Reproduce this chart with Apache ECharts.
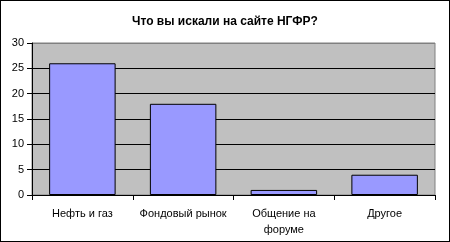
<!DOCTYPE html>
<html><head><meta charset="utf-8">
<script src="https://cdn.jsdelivr.net/npm/echarts@6/dist/echarts.min.js"></script>
<style>html,body{margin:0;padding:0;background:#fff}#c{width:450px;height:242px;box-sizing:border-box;border:1px solid #000}</style>
</head><body><div id="c"></div>
<script>
const titleText = 'Что вы искали на сайте НГФР?';
const categories = ['Нефть и газ', 'Фондовый рынок', 'Общение на\nфоруме', 'Другое'];
const values = [26, 18, 1, 4];
const yTicks = [0, 5, 10, 15, 20, 25, 30];

const chart = echarts.init(document.getElementById('c'), null, {renderer: 'canvas'});
chart.setOption({
  animation: false,
  backgroundColor: '#fff',
  title: {
    text: titleText, left: 'center', top: 10,
    textStyle: {fontFamily: 'Liberation Sans, Arial', fontSize: 12, fontWeight: 'bold', color: '#000'}
  },
  grid: {left: 31, right: 14, top: 42, bottom: 46, show: true, backgroundColor: '#c0c0c0', borderColor: '#808080', borderWidth: 1},
  xAxis: {
    type: 'category', data: categories,
    axisLine: {lineStyle: {color: '#000', width: 1}},
    axisTick: {show: true, length: 5, lineStyle: {color: '#000'}},
    axisLabel: {fontFamily: 'Liberation Sans, Arial', fontSize: 11, color: '#000', margin: 11, lineHeight: 16, interval: 0}
  },
  yAxis: {
    type: 'value', min: yTicks[0], max: yTicks[yTicks.length - 1], interval: 5,
    axisLine: {show: true, lineStyle: {color: '#000', width: 1}},
    axisTick: {show: true, length: 5, lineStyle: {color: '#000'}},
    axisLabel: {fontFamily: 'Liberation Sans, Arial', fontSize: 11, color: '#000', margin: 8},
    splitLine: {show: true, lineStyle: {color: ['#000', '#000', '#000', '#000', '#000', '#000', '#808080'], width: 1}}
  },
  series: [{
    type: 'bar', data: values, barCategoryGap: '34%',
    itemStyle: {color: '#9999ff', borderColor: '#000', borderWidth: 1}
  }]
});
</script></body></html>
